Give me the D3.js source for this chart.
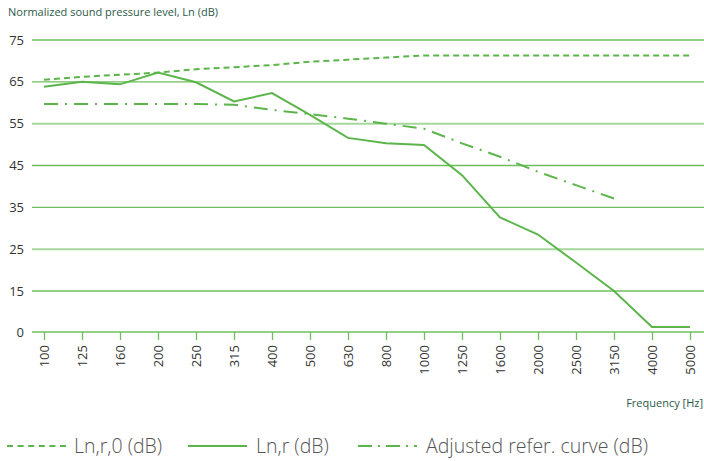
<!DOCTYPE html>
<html>
<head>
<meta charset="utf-8">
<script src="https://cdn.jsdelivr.net/npm/d3@7"></script>
<style>
  body { margin: 0; background: #fff; }
  svg { display: block; font-family: "Open Sans", "Noto Sans", sans-serif; }
</style>
</head>
<body>
<svg id="chart" width="704" height="461"></svg>
<script>
var freqs = ["100","125","160","200","250","315","400","500","630","800","1000","1250","1600","2000","2500","3150","4000","5000"];
var lnr0 = [65.5,66.2,66.7,67.2,68,68.5,69,69.8,70.3,70.8,71.3,71.3,71.3,71.3,71.3,71.3,71.3,71.3];
var lnr = [63.8,65,64.4,67.2,64.9,60.3,62.3,57.1,51.6,50.3,49.9,42.7,32.6,28.5,21.8,15,1.8,1.8];
var adjusted = [59.7,59.7,59.7,59.7,59.7,59.5,58.3,57.3,56.2,55,53.8,50.3,47.1,43.5,40.3,37.1];
var yTicks = [0,15,25,35,45,55,65,75];

var svg = d3.select("#chart"),
    green = "#5cb54b",
    left = 32, right = 704;

// the axis is not linear: 0..15 takes the same room as 15..25
var x = d3.scalePoint().domain(freqs).range([44, 690]),
    y = d3.scaleLinear().domain([0, 15, 75]).range([332, 291, 40]);

svg.append("text")
    .attr("x", 8).attr("y", 16)
    .attr("font-size", 11)
    .attr("fill", "#2c5a48")
    .text("Normalized sound pressure level, Ln (dB)");

// grid
svg.append("g").selectAll("line")
  .data(yTicks)
  .enter().append("line")
    .attr("x1", left).attr("x2", right)
    .attr("y1", d => y(d)).attr("y2", d => y(d))
    .attr("stroke", d => (d === 55 || d === 25) ? "#a6d79c" : "#6cbf5c")
    .attr("stroke-width", d => (d === 55 || d === 25) ? 2 : 1.3);

svg.append("g").selectAll("text")
  .data(yTicks)
  .enter().append("text")
    .attr("x", 24).attr("y", d => y(d))
    .attr("dy", "0.35em")
    .attr("text-anchor", "end")
    .attr("font-size", 13)
    .attr("fill", "#333")
    .text(d => d);

// x axis
var xAxis = svg.append("g")
    .attr("transform", "translate(0," + y(0) + ")")
    .call(d3.axisBottom(x).tickSize(8).tickPadding(6));
xAxis.select(".domain").remove();
xAxis.selectAll(".tick line").attr("stroke", "#6cbf5c").attr("stroke-width", 1.3);
xAxis.selectAll(".tick text")
    .attr("transform", "rotate(-90)")
    .attr("text-anchor", "end")
    .attr("x", -13).attr("y", 0)
    .attr("dy", "0.35em")
    .attr("font-size", 13)
    .attr("font-family", "Open Sans, sans-serif")
    .attr("fill", "#333");

svg.append("text")
    .attr("x", 703).attr("y", 407)
    .attr("text-anchor", "end")
    .attr("font-size", 11)
    .attr("fill", "#2c5a48")
    .text("Frequency [Hz]");

// series
var series = [
  {name: "Ln,r,0 (dB)", values: lnr0, dash: "6,4"},
  {name: "Ln,r (dB)", values: lnr, dash: null},
  {name: "Adjusted refer. curve (dB)", values: adjusted, dash: "14,7,2,7"}
];

var line = d3.line()
    .x((d, i) => x(freqs[i]))
    .y(d => y(d));

svg.append("g").selectAll("path")
  .data(series)
  .enter().append("path")
    .attr("d", d => line(d.values))
    .attr("fill", "none")
    .attr("stroke", green)
    .attr("stroke-width", 2)
    .attr("stroke-dasharray", d => d.dash);

// legend
var legendX = [7, 188, 358];
var legend = svg.append("g").selectAll("g")
  .data(series)
  .enter().append("g")
    .attr("transform", (d, i) => "translate(" + legendX[i] + ",446)");

legend.append("line")
    .attr("x1", 0).attr("x2", 59)
    .attr("stroke", green)
    .attr("stroke-width", 2)
    .attr("stroke-dasharray", (d, i) => i === 0 ? "6,4.6" : i === 2 ? "14,6,2,6" : null);

legend.append("text")
    .attr("x", (d, i) => i === 0 ? 67 : 68)
    .attr("dy", "0.35em")
    .attr("font-size", 19.5)
    .attr("font-weight", 300)
    .attr("fill", "#555")
    .text(d => d.name);
</script>
</body>
</html>
